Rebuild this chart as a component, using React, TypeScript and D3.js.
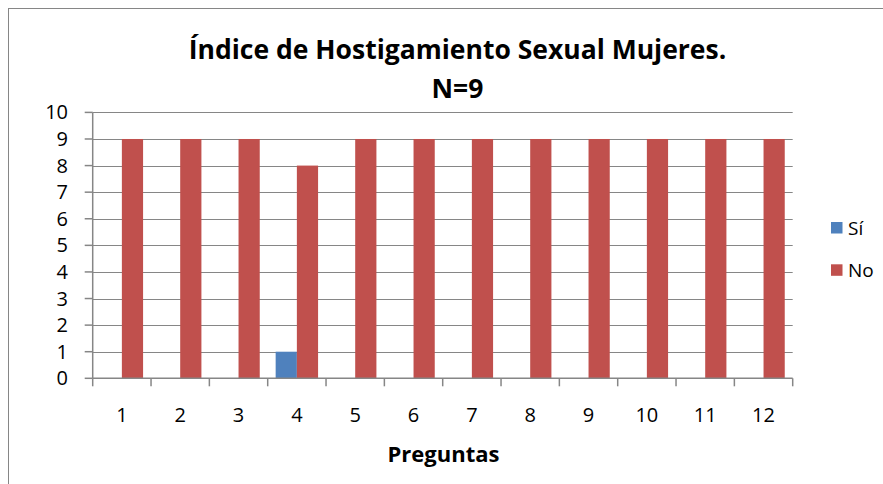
import React from "react";
import * as d3 from "d3";

const categories = ["1", "2", "3", "4", "5", "6", "7", "8", "9", "10", "11", "12"];
const seriesNames = ["Sí", "No"];
const siValues = [0, 0, 0, 1, 0, 0, 0, 0, 0, 0, 0, 0];
const noValues = [9, 9, 9, 8, 9, 9, 9, 9, 9, 9, 9, 9];
const yTicks = [0, 1, 2, 3, 4, 5, 6, 7, 8, 9, 10];
const colors = ["#4F81BD", "#C0504D"];
const titleLine1 = "Índice de Hostigamiento Sexual Mujeres.";
const titleLine2 = "N=9";
const xTitle = "Preguntas";

const FONT = "'Open Sans', 'Noto Sans', sans-serif";

export default function App() {
  const W = 883, H = 484;
  const left = 92.7, right = 792.7, top = 112.4, bottom = 378.3;
  const x = d3.scaleBand().domain(categories).range([left, right]).paddingInner(0).paddingOuter(0);
  const inner = d3.scaleBand().domain(seriesNames).range([0, x.bandwidth()]).paddingInner(0).paddingOuter(0.375);
  const y = d3.scaleLinear().domain([0, 10]).range([bottom, top]);
  const series = [siValues, noValues];
  const grid = "#868686";
  const boundaries = d3.range(categories.length + 1).map((i) => left + i * x.step());

  return (
    <svg width={W} height={H} style={{ position: "absolute", left: 0, top: 0 }} fontFamily={FONT}>
      <rect x={0} y={0} width={W} height={H} fill="#fff" />
      <rect x={8.5} y={8.5} width={W + 20} height={H + 20} fill="#fff" stroke={grid} strokeWidth={1} />
      <text x={457.5} y={59} textAnchor="middle" fontSize={26.5} fontWeight="bold" fill="#000">{titleLine1}</text>
      <text x={457.5} y={97.5} textAnchor="middle" fontSize={26.5} fontWeight="bold" fill="#000">{titleLine2}</text>
      {yTicks.filter((t) => t > 0).map((t) => (
        <line key={"g" + t} x1={left} x2={right} y1={Math.round(y(t)) + 0.5} y2={Math.round(y(t)) + 0.5} stroke={grid} strokeWidth={1} />
      ))}
      {series.map((vals, si) =>
        vals.map((v, i) =>
          v > 0 ? (
            <rect key={si + "-" + i} x={(x(categories[i]) as number) + (inner(seriesNames[si]) as number)} y={y(v)} width={inner.bandwidth()} height={y(0) - y(v)} fill={colors[si]} />
          ) : null
        )
      )}
      <line x1={left} x2={left} y1={top} y2={bottom} stroke={grid} strokeWidth={1.5} />
      <line x1={left} x2={right} y1={bottom} y2={bottom} stroke={grid} strokeWidth={1.5} />
      {yTicks.map((t) => (
        <g key={"yt" + t}>
          <line x1={left - 8} x2={left} y1={y(t)} y2={y(t)} stroke={grid} strokeWidth={1.5} />
          <text x={68} y={y(t) + 7} textAnchor="end" fontSize={20} fill="#000">{t}</text>
        </g>
      ))}
      {boundaries.map((b, i) => (
        <line key={"xt" + i} x1={b} x2={b} y1={bottom} y2={bottom + 8} stroke={grid} strokeWidth={1.5} />
      ))}
      {categories.map((c) => (
        <text key={"xl" + c} x={(x(c) as number) + x.bandwidth() / 2} y={421.5} textAnchor="middle" fontSize={20} fill="#000">{c}</text>
      ))}
      <text x={443.5} y={462} textAnchor="middle" fontSize={22} fontWeight="bold" fill="#000">{xTitle}</text>
      {seriesNames.map((s, i) => (
        <g key={"lg" + s}>
          <rect x={831} y={222 + i * 42.3} width={11.5} height={11.5} fill={colors[i]} />
          <text x={848} y={234.5 + i * 42.3} fontSize={19} fill="#000">{s}</text>
        </g>
      ))}
    </svg>
  );
}
